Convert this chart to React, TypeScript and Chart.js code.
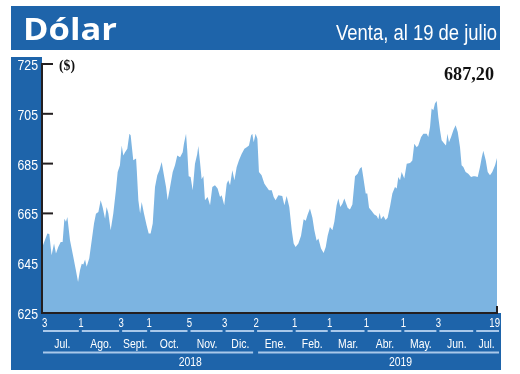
import React, { useEffect, useRef } from "react";
import { Chart, registerables } from "chart.js";
Chart.register(...registerables);

const title = "Dólar";
const subtitle = "Venta, al 19 de julio";
const unitLabel = "($)";
const lastValueLabel = "687,20";
const yTicks = [625, 645, 665, 685, 705, 725];

// trading sessions since 3 Jul 2018
const sessions = [
  0, 2.5, 3.6, 4.9, 6.3, 7.4, 8.7, 10.1, 11.2, 12.2, 13.1, 13.9, 15.4, 17.3, 18.6, 20.0, 21.1, 22.1, 23.0, 24.0,
  24.9, 26.4, 27.8, 29.1, 30.2, 31.6, 32.9, 34.0, 35.4, 36.3, 37.3, 38.6, 40.1, 41.6, 42.6, 43.9, 44.9, 45.8, 46.8, 48.1,
  49.3, 50.0, 51.5, 53.1, 53.5, 54.4, 55.4, 56.3, 57.6, 59.1, 60.3, 61.4, 62.6, 63.9, 65.2, 66.4, 67.7, 69.0, 70.2, 71.1,
  72.5, 74.0, 75.3, 76.6, 78.2, 79.7, 80.4, 81.6, 82.3, 83.1, 84.2, 85.4, 86.7, 88.0,
  88.6, 89.6, 90.5, 91.5, 92.4, 93.9, 95.3, 96.6, 98.1, 99.6, 101.0, 101.9, 103.4, 104.8, 105.7, 106.7, 108.0, 109.2, 110.5, 111.8,
  113.3, 114.9, 116.2, 117.5, 118.7, 119.4, 120.2, 121.3, 122.3, 123.2, 124.7, 126.3, 127.6, 128.9, 130.5, 131.6, 132.7, 134.3, 136.5, 137.7,
  139.0, 140.5, 141.9, 143.0, 144.1, 145.7, 147.2, 148.7, 149.9, 151.0, 152.3, 153.7, 154.8, 156.1, 157.1, 158.6, 160.1, 161.3, 162.4, 163.7,
  165.1, 166.2, 167.5, 168.5, 169.6, 170.8, 171.9,
  173.8, 175.1, 176.5, 178.0, 179.5, 180.8, 181.8, 182.7, 184.1, 185.0, 186.0, 187.5, 189.0, 190.4, 191.3, 192.1, 192.8, 194.2, 195.5, 196.6,
  198.0, 199.3, 200.8, 201.8, 202.7, 203.7, 204.6, 206.1, 207.5, 209.4, 210.7, 211.8, 213.2, 214.1, 215.7, 217.0, 218.9, 219.8, 220.8, 221.7,
  222.7, 223.6, 224.6, 225.5, 226.5, 227.4, 229.0, 229.9, 230.7, 231.6, 232.8, 234.1, 235.4, 236.6, 237.9, 238.8, 239.8, 241.1, 242.6, 244.2,
  245.5, 246.5, 248.0, 249.3, 250.3, 251.2, 252.6, 253.7, 255.0, 256.3, 257.9, 259,
];

const closes = [
  652.2, 656.9, 656.7, 648.2, 652.9, 648.9, 651.5, 653.5, 653.5, 662.9, 661.6, 663.6, 654.2, 647.5, 642.8, 637.5, 642.2, 644.8, 644.5, 646.5,
  643.6, 647.0, 654.2, 660.9, 664.9, 665.6, 670.3, 667.6, 662.9, 667.6, 665.0, 658.2, 665.0, 674.3, 681.6, 684.3, 692.3, 688.3, 689.6, 691.0,
  697.0, 696.4, 686.3, 687.0, 682.3, 670.3, 665.0, 669.6, 665.0, 660.2, 656.9, 656.9, 660.9, 675.6, 680.3, 682.3, 685.6, 680.3, 675.6, 670.3,
  675.6, 681.6, 684.3, 688.3, 687.6, 689.6, 693.0, 697.0, 690.3, 679.9, 679.6, 674.3, 684.9, 688.9,
  692.1, 685.4, 678.7, 680.0, 670.3, 671.6, 668.3, 675.6, 676.3, 675.0, 671.6, 672.3, 668.3, 676.9, 678.3, 676.3, 682.3, 678.3, 683.6, 686.3,
  688.9, 691.0, 691.6, 692.3, 696.3, 697.0, 693.6, 697.0, 695.0, 681.6, 680.3, 676.9, 675.6, 674.3, 674.3, 671.6, 670.3, 672.3, 672.0, 668.3,
  672.0, 667.6, 658.2, 652.9, 651.5, 652.9, 656.0, 662.7, 662.0, 664.6, 667.0, 663.3, 658.2, 654.0, 654.9, 650.9, 649.1, 651.5, 656.0, 659.5,
  658.2, 661.6, 668.3, 671.0, 667.6, 668.9, 671.0,
  667.3, 666.6, 668.6, 679.9, 680.9, 683.0, 683.6, 679.6, 673.0, 673.0, 667.3, 666.0, 664.6, 664.0, 662.7, 665.3, 662.7, 664.0, 662.3, 663.3,
  667.9, 673.0, 675.6, 675.0, 679.6, 678.3, 681.6, 679.0, 684.9, 685.2, 686.2, 693.0, 691.6, 692.3, 695.7, 697.0, 697.0, 695.7, 699.7, 707.1,
  706.4, 709.1, 710.1, 703.7, 698.4, 694.4, 693.0, 692.3, 697.0, 693.6, 695.7, 698.4, 700.4, 697.7, 691.6, 684.3, 683.6, 681.6, 680.9, 679.6,
  679.9, 679.9, 679.6, 683.6, 687.5, 690.2, 686.2, 681.6, 680.3, 681.6, 684.3, 687.2,
];

// month boundaries (session index) and labels
const monthBounds = [0, 21, 44, 60, 83, 103, 121, 143, 163, 184, 205, 225, 246, 259];
const dayLabels = ["3", "1", "3", "1", "5", "3", "2", "1", "1", "1", "1", "3", "", "19"];
const monthNames = ["Jul.", "Ago.", "Sept.", "Oct.", "Nov.", "Dic.", "Ene.", "Feb.", "Mar.", "Abr.", "May.", "Jun.", "Jul."];
const years = ["2018", "2019"];
const yearBounds = [0, 121, 259];
const yearLabelAt = [84, 204];

const BLUE = "#1e64aa";
const AREA = "#7cb4e1";
const DARK = "#231f20";
const LINE_LIGHT = "#a9c8ea";

function drawText(
  ctx: CanvasRenderingContext2D,
  s: string,
  x: number,
  y: number,
  font: string,
  color: string,
  align: "left" | "right" | "center",
  sx: number,
  width?: number
) {
  ctx.save();
  ctx.font = font;
  ctx.fillStyle = color;
  ctx.textBaseline = "alphabetic";
  ctx.textAlign = "left";
  const w = ctx.measureText(s).width;
  const k = width ? width / w : sx;
  const ww = w * k;
  const left = align === "left" ? x : align === "right" ? x - ww : x - ww / 2;
  ctx.translate(left, y);
  ctx.scale(k, 1);
  ctx.fillText(s, 0, 0);
  ctx.restore();
}

const framePlugin = {
  id: "frame",
  beforeDraw(chart: any) {
    const { ctx, chartArea: a } = chart;
    const y = chart.scales.y;
    ctx.save();
    ctx.fillStyle = "#ffffff";
    ctx.fillRect(0, 0, chart.width, chart.height);
    ctx.fillStyle = BLUE;
    ctx.fillRect(11, 6, 489, 44);
    ctx.fillRect(11, 57, a.left - 1 - 11, a.bottom - 57);
    ctx.fillRect(11, a.bottom, 490, 57);
    ctx.fillStyle = DARK;
    yTicks.forEach((v) => {
      const py = y.getPixelForValue(v);
      ctx.fillRect(a.left - 1, py - 1, 11, 2);
    });
    ctx.restore();
  },
  afterDatasetsDraw(chart: any) {
    const { ctx, chartArea: a } = chart;
    const x = chart.scales.x;
    const y = chart.scales.y;
    const cond = "'Liberation Sans', Arial, sans-serif";
    ctx.save();
    ctx.fillStyle = DARK;
    ctx.fillRect(a.left - 2, a.top - 1, 2, a.bottom - a.top + 2);
    ctx.fillRect(a.left - 2, a.bottom - 1, a.right - a.left + 3, 2);
    ctx.fillRect(a.right - 1, a.bottom - 7, 2, 7);
    ctx.restore();

    drawText(ctx, title, 23, 39.5, "bold 31px 'Open Sans', sans-serif", "#ffffff", "left", 1, 94);
    drawText(ctx, subtitle, 497, 39.5, `22px ${cond}`, "#ffffff", "right", 1, 161);
    drawText(ctx, unitLabel, 59, 70, "bold 15px 'Liberation Serif', serif", "#111111", "left", 1, 16);
    drawText(ctx, lastValueLabel, 494, 79.5, "bold 18px 'Liberation Serif', serif", "#111111", "right", 1, 50);

    yTicks.forEach((v) => {
      const py = y.getPixelForValue(v);
      drawText(ctx, String(v), 38, py + 6, `15px ${cond}`, "#ffffff", "right", 0.82);
    });

    ctx.save();
    ctx.fillStyle = LINE_LIGHT;
    for (let i = 0; i < monthNames.length; i++) {
      const x0 = x.getPixelForValue(monthBounds[i]) + (i === 0 ? 0 : 2);
      const x1 = x.getPixelForValue(monthBounds[i + 1]) - (i === monthNames.length - 1 ? -2 : 1);
      ctx.fillRect(x0, 330, x1 - x0, 2);
    }
    for (let i = 0; i < years.length; i++) {
      const x0 = x.getPixelForValue(yearBounds[i]) + (i === 0 ? 0 : 3);
      const x1 = x.getPixelForValue(yearBounds[i + 1]) - (i === years.length - 1 ? -2 : 2);
      ctx.fillRect(x0, 351.5, x1 - x0, 2);
    }
    ctx.restore();

    monthNames.forEach((m, i) => {
      const cx = (x.getPixelForValue(monthBounds[i]) + x.getPixelForValue(monthBounds[i + 1])) / 2 + 1;
      drawText(ctx, m, cx, 347.5, `13px ${cond}`, "#ffffff", "center", 0.8);
    });
    dayLabels.forEach((d, i) => {
      if (!d) return;
      const px = x.getPixelForValue(monthBounds[i]);
      const al = i === 0 ? "left" : i === dayLabels.length - 1 ? "right" : "center";
      const xx = i === 0 ? px - 1 : i === dayLabels.length - 1 ? px + 3 : px + 1;
      drawText(ctx, d, xx, 326.5, `12px ${cond}`, "#ffffff", al as any, 0.8);
    });
    years.forEach((yr, i) => {
      drawText(ctx, yr, x.getPixelForValue(yearLabelAt[i]), 366, `13px ${cond}`, "#ffffff", "center", 0.8);
    });
  },
};

export default function App() {
  const ref = useRef<HTMLCanvasElement>(null);
  useEffect(() => {
    if (!ref.current) return;
    const chart = new Chart(ref.current, {
      type: "line",
      data: {
        datasets: [
          {
            data: sessions.map((s, i) => ({ x: s, y: closes[i] })),
            fill: "start",
            backgroundColor: AREA,
            borderWidth: 0,
            borderColor: AREA,
            pointRadius: 0,
            tension: 0,
          },
        ],
      },
      options: {
        animation: false,
        responsive: false,
        devicePixelRatio: 1,
        events: [],
        layout: { padding: { left: 43, right: 23, top: 64, bottom: 61 } },
        plugins: { legend: { display: false }, tooltip: { enabled: false }, title: { display: false } },
        scales: {
          x: { type: "linear", min: 0, max: 259, display: false },
          y: { type: "linear", min: 625, max: 725, display: false },
        },
      },
      plugins: [framePlugin],
    });
    return () => chart.destroy();
  }, []);
  return (
    <div style={{ position: "fixed", left: 0, top: 0, width: 520, height: 374, background: "#fff" }}>
      <canvas ref={ref} width={520} height={374} style={{ width: 520, height: 374, display: "block" }} />
    </div>
  );
}
